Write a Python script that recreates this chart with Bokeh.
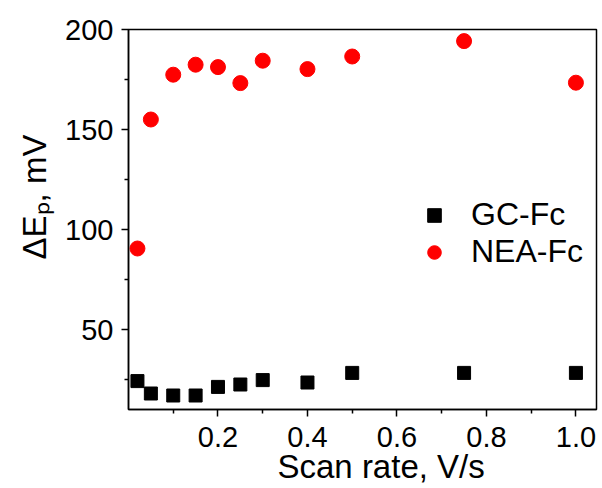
from bokeh.plotting import figure
from bokeh.models import (Range1d, FixedTicker, Legend, LegendItem, Title,
                          ColumnDataSource)
from bokeh.embed import file_html
from bokeh.resources import INLINE

# ---- data ----
scan_rate = [0.02, 0.05, 0.10, 0.15, 0.20, 0.25, 0.30, 0.40, 0.50, 0.75, 1.00]
gc_fc = [24.2, 18.0, 17.0, 17.0, 21.3, 22.5, 24.7, 23.5, 28.3, 28.3, 28.3]
nea_fc = [90.5, 155.0, 177.4, 182.4, 181.2, 173.2, 184.4, 180.2, 186.5, 194.2, 173.4]
x_ticks = [0.2, 0.4, 0.6, 0.8, 1.0]
x_minor = [0.1, 0.3, 0.5, 0.7, 0.9]
y_ticks = [50, 100, 150, 200]
y_minor = [25, 75, 125, 175]
series_names = ["GC-Fc", "NEA-Fc"]
x_title = "Scan rate, V/s"
y_title = "\u0394E\u209a, mV"

FONT = "Liberation Sans"

p = figure(width=602, height=488, output_backend="svg", toolbar_location=None,
           x_range=Range1d(0.0, 1.046), y_range=Range1d(10, 200),
           min_border_left=128, min_border_right=6, min_border_top=29,
           min_border_bottom=79)
p.grid.visible = False
p.background_fill_color = "white"
p.border_fill_color = "white"
p.outline_line_color = "black"
p.outline_line_width = 1.5

src = ColumnDataSource(dict(x=scan_rate, gc=gc_fc, nea=nea_fc))
r1 = p.scatter("x", "gc", source=src, marker="square", size=13,
               fill_color="black", line_color="black")
r2 = p.scatter("x", "nea", source=src, marker="circle", size=15,
               fill_color="#ff0000", line_color="#ff0000")

for ax, tk, mn in ((p.xaxis[0], x_ticks, x_minor), (p.yaxis[0], y_ticks, y_minor)):
    ax.ticker = FixedTicker(ticks=tk, minor_ticks=mn)
    ax.axis_label = None
    ax.axis_line_color = "black"
    ax.axis_line_width = 1.5
    ax.major_tick_line_color = "black"
    ax.minor_tick_line_color = "black"
    ax.major_tick_line_width = 1.5
    ax.minor_tick_line_width = 1.5
    ax.major_tick_in = 0
    ax.major_tick_out = 7
    ax.minor_tick_in = 0
    ax.minor_tick_out = 4
    ax.major_label_text_font = FONT
    ax.major_label_text_font_size = "29px"
    ax.major_label_text_color = "black"
p.xaxis[0].major_label_standoff = 10
p.yaxis[0].major_label_standoff = 8
p.xaxis[0].major_label_overrides = {t: f"{t:.1f}" for t in x_ticks}

# axis titles
p.add_layout(Title(text=x_title, align="left", offset=149, standoff=-8,
                   text_font=FONT, text_font_size="33px",
                   text_font_style="normal", text_color="black"), "below")
p.add_layout(Title(text=y_title, align="left", offset=150, standoff=20,
                   text_font=FONT, text_font_size="33px",
                   text_font_style="normal", text_color="black"), "left")

legend = Legend(items=[LegendItem(label=series_names[0], renderers=[r1]),
                       LegendItem(label=series_names[1], renderers=[r2])],
                location=(289, 139), border_line_color=None,
                background_fill_alpha=0, padding=0, spacing=-8, margin=0,
                glyph_height=34, glyph_width=34, label_standoff=20,
                label_text_font=FONT, label_text_font_size="32px",
                label_text_color="black")
p.add_layout(legend)

open("out.html", "w").write(file_html(p, INLINE))
